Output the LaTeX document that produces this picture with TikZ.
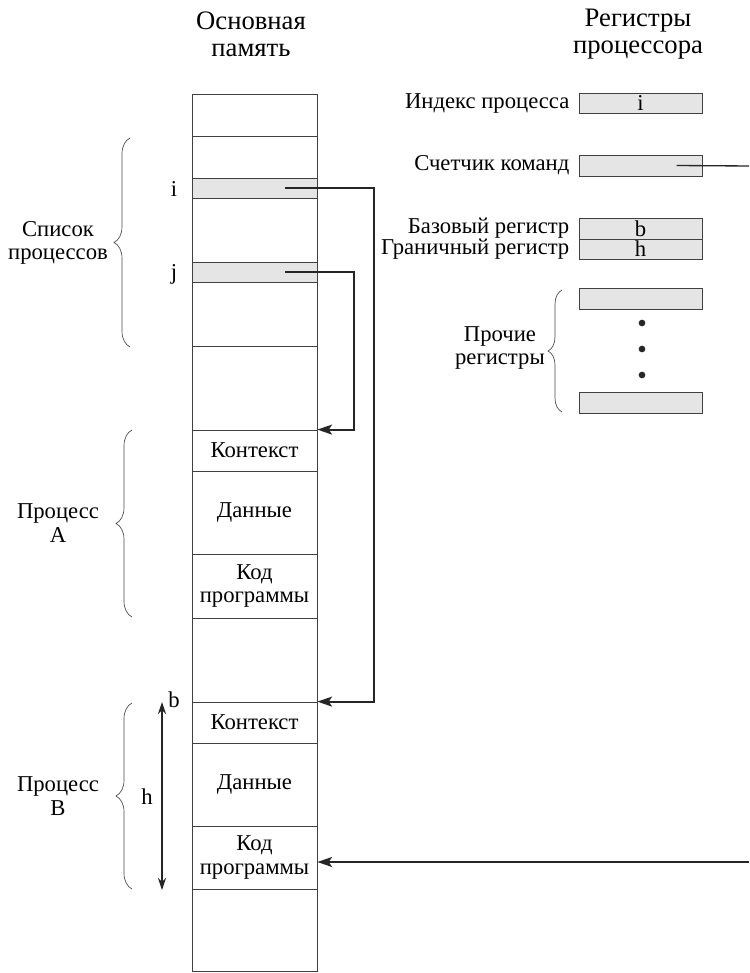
\documentclass[tikz,border=0pt]{standalone}
\usepackage{fontspec}
\setmainfont{Liberation Serif}
\usetikzlibrary{arrows.meta,decorations.pathreplacing,fit,calc}
\tikzset{hbtip/.tip={Stealth[length=9pt,width=6pt]}}
\begin{document}
\begin{tikzpicture}[x=0.75pt,y=-0.75pt,
  every node/.style={font=\fontsize{17}{17.5}\selectfont},
  cell/.style={draw=black!75, line width=0.6pt, inner sep=0pt},
  shadedcell/.style={cell, fill=black!10},
  reg/.style={draw=black!75, line width=0.6pt, fill=black!10, inner sep=0pt},
  link/.style={draw=black!85, line width=1.4pt, -{Stealth[length=11pt,width=7.5pt,inset=2.5pt]}},
  brc/.style={draw=black!70, line width=0.5pt, decorate, decoration={brace, amplitude=12pt}},
  lbl/.style={align=center, inner sep=0pt},
  head/.style={lbl, font=\fontsize{20}{20}\selectfont},
  dot/.style={circle, fill=black!85, inner sep=0pt, minimum size=5pt}
]
\useasboundingbox[fill=white] (0,0) rectangle (749,973);

% headers
\node[head] (hmem) at (251,34) {Основная\\память};
\node[head] (hreg) at (638,34) {Регистры\\процессора};

% memory column
\node[cell, fit={(192,94)(317,136)}] (m1) {};
\node[cell, fit={(192,136)(317,178)}] (m2) {};
\node[shadedcell, fit={(192,178)(317,198)}] (mi) {};
\node[cell, fit={(192,198)(317,262)}] (m3) {};
\node[shadedcell, fit={(192,262)(317,282)}] (mj) {};
\node[cell, fit={(192,282)(317,346)}] (m4) {};
\node[cell, fit={(192,346)(317,430)}] (m5) {};
\node[cell, fit={(192,430)(317,471)}] (aCtx) {};
\node[cell, fit={(192,471)(317,554)}] (aData) {};
\node[cell, fit={(192,554)(317,618)}] (aCode) {};
\node[cell, fit={(192,618)(317,702)}] (m6) {};
\node[cell, fit={(192,702)(317,743)}] (bCtx) {};
\node[cell, fit={(192,743)(317,826)}] (bData) {};
\node[cell, fit={(192,826)(317,889)}] (bCode) {};
\node[cell, fit={(192,889)(317,971)}] (m7) {};

\node[lbl] (taCtx) at (aCtx.center) {Контекст};
\node[lbl] (taData) at (aData.center) {Данные};
\node[lbl] (taCode) at (aCode.center) {Код\\программы};
\node[lbl] (tbCtx) at (bCtx.center) {Контекст};
\node[lbl] (tbData) at (bData.center) {Данные};
\node[lbl] (tbCode) at (bCode.center) {Код\\программы};

% index labels
\node[lbl] (li) at (174,189) {i};
\node[lbl] (lj) at (174,274) {j};

% braces and labels on left
\draw[brc] (130,347) -- (130,138);
\node[lbl] (lst) at (58,243) {Список\\процессов};
\draw[brc] (132,617) -- (132,430);
\node[lbl] (pa) at (58,523) {Процесс\\A};
\draw[brc] (132,889) -- (132,703);
\node[lbl] (pb) at (58,796) {Процесс\\B};

% b/h arrow
\coordinate (hb) at (162,702);
\coordinate (he) at (162,890);
\draw[line width=0.9pt, black!85, {hbtip}-{hbtip}] (hb) -- (he);
\node[lbl] (lb) at (174,700) {b};
\node[lbl] (lh) at (147,797) {h};

% pointers
\draw[link] ($(mi.east)+(-32,0)$) -- ++(89,0) |- (bCtx.north east);
\draw[link] ($(mj.east)+(-32,0)$) -- ++(69,0) |- (aCtx.north east);

% registers
\node[reg, fit={(579,93)(702,113)}] (idx) {};
\node[reg, fit={(579,155)(702,176)}] (pc) {};
\node[reg, fit={(579,218)(702,239)}] (base) {};
\node[reg, fit={(579,239)(702,259)}] (lim) {};
\node[reg, fit={(579,288)(702,309)}] (r1) {};
\node[reg, fit={(579,392)(702,413)}] (r2) {};
\node[lbl] (tidx) at (idx.center) {i};
\node[lbl] (tbase) at (base.center) {b};
\node[lbl] (tlim) at (lim.center) {h};

\node[lbl, anchor=east] (lidx) at ($(idx.west)+(-9,0)$) {Индекс процесса};
\node[lbl, anchor=east] (lpc) at ($(pc.west)+(-9,0)$) {Счетчик команд};
\node[lbl, anchor=east] (lbase) at ($(base.west)+(-9,0)$) {Базовый регистр};
\node[lbl, anchor=east] (llim) at ($(lim.west)+(-9,0)$) {Граничный регистр};

\node[dot] (d1) at (642,323) {};
\node[dot] (d2) at (642,349) {};
\node[dot] (d3) at (642,375) {};

\draw[brc, decoration={brace, amplitude=10.5pt}] (562,412) -- (562,290);
\node[lbl, anchor=east] (oth) at (545,348) {Прочие\\регистры};

% program counter connection
\coordinate (pcout) at (749,166);
\coordinate (pcin) at (749,862);
\draw[line width=1pt, black!85] ($(pc.center)+(36,0)$) -- (pcout);
\draw[link] (pcin) -- (bCode.east |- pcin);
\end{tikzpicture}
\end{document}
